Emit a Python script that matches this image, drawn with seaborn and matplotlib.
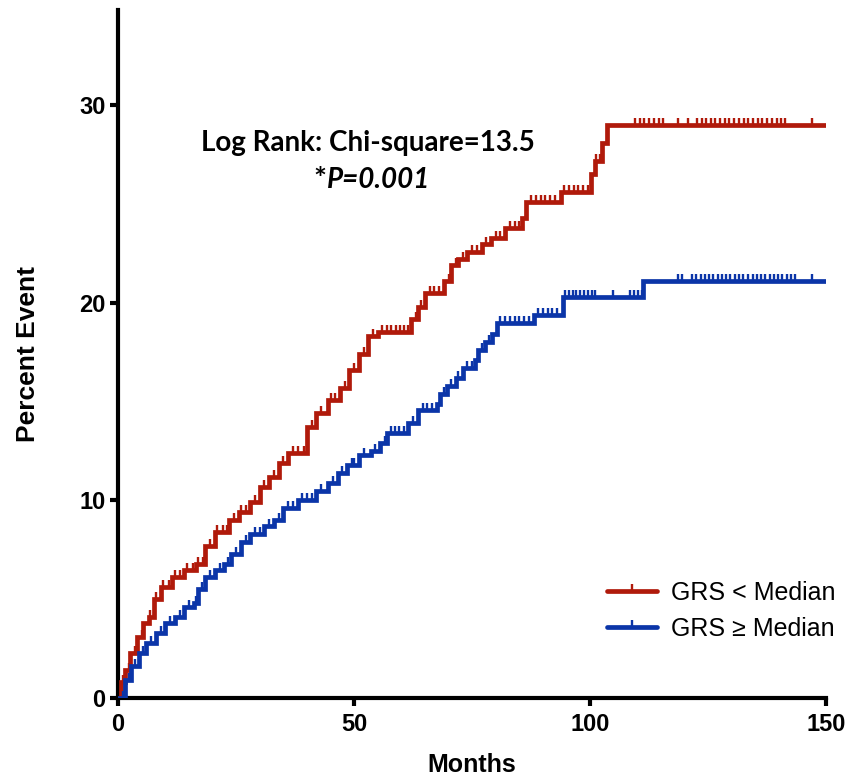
import numpy as np
import pandas as pd
import matplotlib
matplotlib.use("Agg")
import matplotlib.pyplot as plt
from matplotlib.lines import Line2D
import seaborn as sns

# ---------------- data ----------------
red_time = [0, 0.6, 1.5, 2.5, 4.0, 5.2, 6.5, 7.5, 9.0, 11.5, 14.0, 16.5, 18.5, 20.5,
            23.5, 25.5, 28.0, 30.0, 32.0, 34.0, 36.0, 40.0, 42.0, 44.5, 47.0, 49.0,
            51.0, 53.0, 55.0, 62.0, 63.5, 65.0, 69.0, 70.5, 72.0, 74.0, 77.0, 79.0,
            82.0, 85.5, 86.5, 93.8, 100.2, 101.0, 102.5, 103.5, 150.0]
red_pct = [0, 0.8, 1.4, 2.3, 3.1, 3.8, 4.1, 5.0, 5.6, 6.1, 6.5, 6.8, 7.7, 8.4,
           9.0, 9.4, 9.9, 10.7, 11.2, 11.9, 12.4, 13.7, 14.4, 15.1, 15.7, 16.6,
           17.4, 18.3, 18.5, 19.2, 19.8, 20.5, 21.1, 21.9, 22.2, 22.6, 23.0, 23.3,
           23.8, 24.3, 25.1, 25.6, 26.5, 27.2, 28.1, 29.0, 29.0]

blue_time = [0, 1.5, 2.8, 4.5, 6.0, 8.0, 10.0, 12.0, 14.0, 16.0, 17.0, 18.5, 20.5,
             22.5, 24.0, 26.0, 28.0, 31.0, 33.0, 35.0, 38.0, 42.0, 44.5, 46.5, 48.5,
             51.0, 53.5, 55.5, 57.0, 61.5, 63.5, 67.5, 68.2, 69.7, 71.5, 73.0, 75.5,
             76.3, 77.8, 79.2, 80.3, 88.0, 94.3, 111.2, 150.0]
blue_pct = [0, 0.9, 1.6, 2.3, 2.8, 3.3, 3.8, 4.1, 4.6, 4.8, 5.5, 6.1, 6.5,
            6.8, 7.3, 7.9, 8.3, 8.7, 9.0, 9.6, 10.0, 10.5, 10.9, 11.4, 11.8,
            12.3, 12.5, 12.9, 13.4, 13.9, 14.6, 14.9, 15.4, 15.8, 16.2, 16.7, 17.1,
            17.6, 18.0, 18.4, 19.0, 19.4, 20.3, 21.1, 21.1]

red_censor = [1.0, 2.2, 3.5, 5.0, 6.8, 8.0, 9.5, 10.8, 12.0, 13.2, 14.5, 15.8, 17.0,
              18.0, 19.5, 21.0, 22.2, 23.0, 24.5, 26.0, 27.0, 29.0, 31.0, 33.0, 35.0,
              37.0, 38.0, 39.3, 41.0, 43.0, 45.0, 46.0, 48.0, 50.0, 52.0, 54.0, 56.0,
              57.0, 57.9, 58.8, 59.7, 60.6, 61.5, 63.0, 64.2, 66.0, 67.0, 68.0, 70.0,
              71.5, 73.0, 75.0, 76.0, 78.0, 80.0, 81.0, 83.0, 84.0, 85.0, 87.5, 88.5,
              89.5, 90.5, 91.5, 92.5, 94.5, 95.5, 96.5, 97.5, 98.5, 99.5, 101.2, 102.0,
              109.5, 110.5, 111.5, 112.5, 113.5, 114.5, 115.5, 118.6, 120.8, 122.7,
              123.6, 124.5, 125.5, 126.5, 127.5, 128.5, 129.5, 130.5, 131.5, 132.5,
              133.5, 134.5, 135.5, 136.5, 137.5, 138.5, 139.5, 140.5, 141.3, 147.0]
blue_censor = [1.0, 2.2, 3.6, 5.2, 7.0, 9.0, 11.0, 13.0, 15.0, 16.5, 17.8, 19.5, 21.5,
               23.2, 25.0, 27.0, 29.0, 30.0, 32.0, 34.0, 36.0, 37.0, 39.0, 40.0, 41.0,
               43.0, 45.5, 47.5, 49.5, 50.0, 52.0, 54.5, 56.5, 57.8, 58.7, 59.6, 60.5,
               62.5, 64.5, 65.5, 66.5, 69.0, 70.5, 72.0, 74.0, 75.0, 77.0, 78.5, 81.0,
               82.0, 83.0, 84.0, 85.0, 86.0, 87.0, 89.0, 90.0, 91.0, 92.0, 93.0, 94.7,
               95.5, 96.3, 97.1, 97.9, 98.7, 99.5, 100.3, 101.1, 104.9, 108.5, 109.3,
               110.1, 110.9, 118.6, 119.5, 121.6, 122.5, 123.4, 124.3, 125.2, 126.1,
               127.0, 127.9, 128.8, 129.7, 130.6, 131.5, 132.4, 133.5, 134.4, 135.3,
               136.2, 137.1, 138.0, 138.9, 139.8, 140.7, 141.6, 142.5, 143.4, 147.0]

group_labels = ["GRS < Median", "GRS \u2265 Median"]
x_ticks = [0, 50, 100, 150]
y_ticks = [0, 10, 20, 30]
stat_text = "Log Rank: Chi-square=13.5"
p_text = "P=0.001"

RED = "#B01A0B"
BLUE = "#0B35A8"

# ---------------- figure ----------------
sns.set_theme(style="ticks")
plt.rcParams["font.family"] = ["Liberation Sans", "DejaVu Sans"]
plt.rcParams["text.color"] = "black"
plt.rcParams["axes.labelcolor"] = "black"
plt.rcParams["xtick.color"] = "black"
plt.rcParams["ytick.color"] = "black"

fig = plt.figure(figsize=(8.5, 7.83), dpi=100)
ax = fig.add_axes([0.139, 0.1086, 0.833, 0.878])

tick_marker = [(0, 0), (0, 1)]
LW = 3.4
MS = 10
MEW = 1.7

def step_value(times, vals, t):
    idx = np.searchsorted(np.asarray(times), np.asarray(t), side="right") - 1
    return np.asarray(vals)[idx]

for times, vals, cens, col in [
    (red_time, red_pct, red_censor, RED),
    (blue_time, blue_pct, blue_censor, BLUE),
]:
    df = pd.DataFrame({"Months": times, "Percent": vals})
    sns.lineplot(data=df, x="Months", y="Percent", ax=ax, color=col, lw=LW,
                 drawstyle="steps-post", estimator=None, sort=False,
                 solid_joinstyle="miter", zorder=3)
    ax.plot(cens, step_value(times, vals, cens), ls="none", marker=tick_marker,
            ms=MS, mew=MEW, mec=col, mfc="none", zorder=3)

ax.set_xlim(0, 150)
ax.set_ylim(0, 34.8)
ax.set_xticks(x_ticks)
ax.set_yticks(y_ticks)

for s in ["top", "right"]:
    ax.spines[s].set_visible(False)
for s in ["left", "bottom"]:
    ax.spines[s].set_linewidth(3.0)
    ax.spines[s].set_color("black")
ax.tick_params(axis="both", width=3.0, length=6, color="black", labelcolor="black")
ax.tick_params(axis="y", pad=3)
ax.tick_params(axis="x", pad=5)

for lbl in ax.get_yticklabels():
    lbl.set_fontsize(17)
    lbl.set_fontweight("bold")
for lbl in ax.get_xticklabels():
    lbl.set_fontsize(17)
    lbl.set_fontweight("bold")

ax.set_xlabel("Months", fontsize=18, fontweight="bold", labelpad=12)
ax.set_ylabel("Percent Event", fontsize=19, fontweight="bold", labelpad=28)

# annotation
ax.text(52.9, 28.1, stat_text, ha="center", va="center", fontsize=20,
        fontweight="bold", family=["Lato", "DejaVu Sans"])
ax.text(44.2, 26.2, "*", ha="right", va="center", fontsize=22,
        fontweight="bold", family=["Lato", "DejaVu Sans"])
ax.text(44.2, 26.2, p_text, ha="left", va="center", fontsize=20,
        fontweight="bold", style="italic", family=["Lato", "DejaVu Sans"])

handles = [
    Line2D([0], [0], color=RED, lw=LW, marker=tick_marker, ms=MS, mew=MEW, mfc="none", mec=RED),
    Line2D([0], [0], color=BLUE, lw=LW, marker=tick_marker, ms=MS, mew=MEW, mfc="none", mec=BLUE),
]
leg = ax.legend(handles, group_labels, loc="lower right", bbox_to_anchor=(1.045, 0.05),
                frameon=False, fontsize=18, handlelength=2.0, handletextpad=0.55,
                labelspacing=0.5, numpoints=1)

fig.savefig("out.png", dpi=100)
